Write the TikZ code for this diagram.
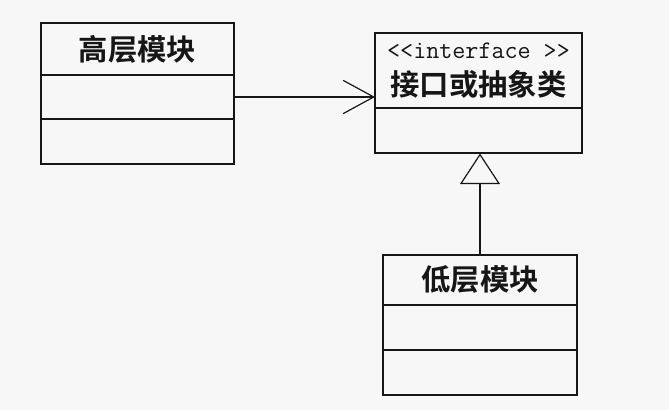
\documentclass[tikz,border=0pt]{standalone}
\usepackage{fontspec}
\newfontfamily\cjk{Noto Sans CJK SC}[BoldFont={Noto Sans CJK SC Bold}]
\usetikzlibrary{arrows.meta,positioning}
\definecolor{paper}{RGB}{247,247,247}
\definecolor{ink}{RGB}{22,22,22}
\tikzset{
  part/.style={draw=ink,line width=1.5pt,inner sep=0pt,outer sep=0pt,
    align=center,minimum width=#1},
  part/.default=145pt,
  classname/.style={font=\cjk\bfseries\fontsize{22}{24}\selectfont,text=ink},
  dep/.style={draw=ink,line width=0.9pt,-{Straight Barb[length=23pt,width=25pt,line width=0.9pt]}},
  impl/.style={draw=ink,line width=0.9pt,-{Triangle[length=23pt,width=30pt,fill=paper,line width=0.9pt]}},
}
\begin{document}
\begin{tikzpicture}[x=0.75pt,y=-0.75pt]
  \fill[paper] (0,0) rectangle (669,410);
  % high level module
  \node[part=144.75pt,minimum height=39pt,classname] (hiHead) at (137.5,49) {高层模块};
  \node[part=144.75pt,minimum height=33pt,below=0pt of hiHead] (hiAttr) {};
  \node[part=144.75pt,minimum height=33.75pt,below=0pt of hiAttr] (hiOps) {};
  % interface
  \node[part=155.25pt,minimum height=56.25pt] (ifHead) at (478.5,71)
    {{\ttfamily\fontsize{19}{20}\selectfont\color{ink}<<interface >>}\\[8pt]
     {\cjk\bfseries\fontsize{22}{24}\selectfont\color{ink}接口或抽象类}};
  \node[part=155.25pt,minimum height=33.75pt,below=0pt of ifHead] (ifBody) {};
  % low level module
  \node[part=145.5pt,minimum height=37.5pt,classname] (loHead) at (480,280) {低层模块};
  \node[part=145.5pt,minimum height=33.75pt,below=0pt of loHead] (loAttr) {};
  \node[part=145.5pt,minimum height=33.75pt,below=0pt of loAttr] (loOps) {};
  % relations
  \draw[dep] (hiAttr.east) -- (hiAttr.east -| ifHead.west);
  \draw[impl] (loHead.north) -- (loHead.north |- ifBody.south);
\end{tikzpicture}
\end{document}
